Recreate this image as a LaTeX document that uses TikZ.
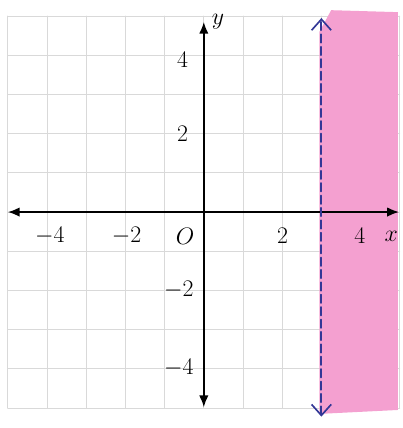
\documentclass[tikz,border=0pt]{standalone}
\usetikzlibrary{arrows.meta}
\definecolor{shadepink}{RGB}{244,160,208}
\definecolor{penblue}{RGB}{50,55,150}
\tikzset{
  gridline/.style={draw=black!15,line width=0.6pt},
  axisline/.style={line width=1.2pt,{Latex[length=3mm,width=2.4mm]}-{Latex[length=3mm,width=2.4mm]}},
  boundary/.style={penblue,line width=1.4pt,dash pattern=on 6pt off 3pt,
    {Straight Barb[length=2.8mm,width=5mm,line width=1.2pt]}-{Straight Barb[length=2.8mm,width=5mm,line width=1.2pt]}},
}
\begin{document}
\begin{tikzpicture}[x=1cm,y=1cm,line cap=round,line join=round,font=\LARGE]
  \useasboundingbox (-5.20,-5.51) rectangle (5.08,5.41);
  \draw[gridline] (-5,-5) grid (5,5);
  \fill[shadepink] (2.95,-5.15) -- (4.95,-5.05) -- (4.95,5.1) -- (3.25,5.15) -- (2.95,4.6) -- cycle;
  \draw[axisline] (-5,0) -- (4.98,0);
  \draw[axisline] (0,-4.98) -- (0,4.85);
  \coordinate (ltop) at (3,4.95);
  \coordinate (lbot) at (3,-5.22);
  \draw[boundary] (lbot) -- (ltop);
  \node (xm4) at (-3.93,-0.61) {$-4$};
  \node (xm2) at (-1.97,-0.61) {$-2$};
  \node (org) at (-0.48,-0.61) {$O$};
  \node (xp2) at (2.01,-0.61) {$2$};
  \node (xp4) at (3.98,-0.61) {$4$};
  \node (xlab) at (4.78,-0.61) {$x$};
  \node (yp4) at (-0.54,3.88) {$4$};
  \node (yp2) at (-0.54,2.0) {$2$};
  \node (ym2) at (-0.64,-1.99) {$-2$};
  \node (ym4) at (-0.64,-3.98) {$-4$};
  \node (ylab) at (0.36,4.85) {$y$};
\end{tikzpicture}
\end{document}
